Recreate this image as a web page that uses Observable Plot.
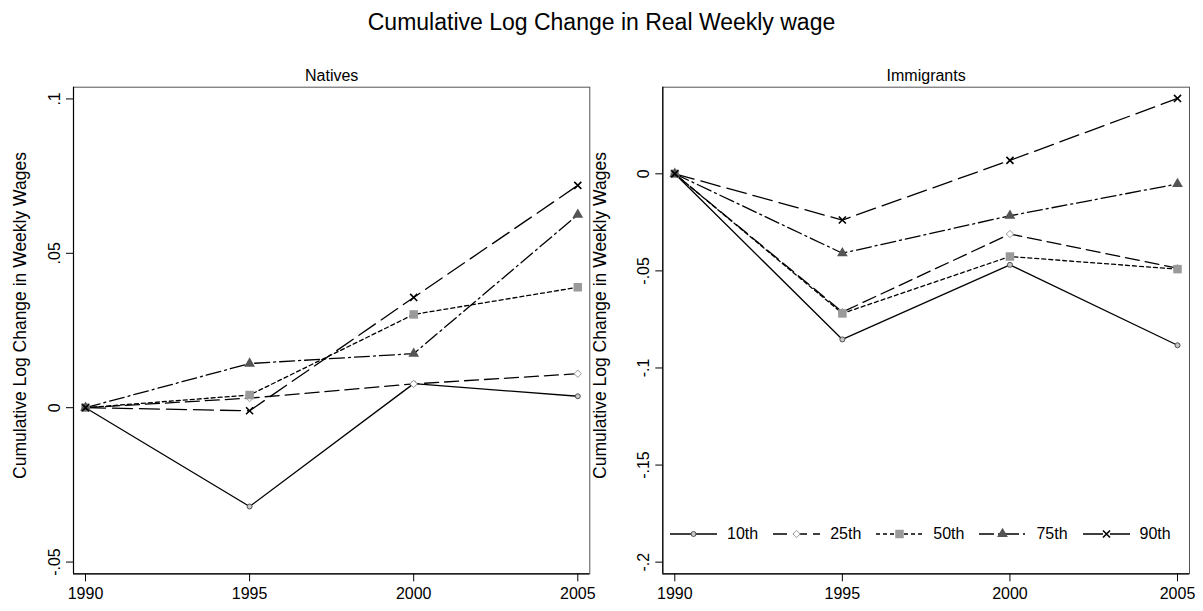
<!DOCTYPE html>
<html><head><meta charset="utf-8">
<script src="https://cdn.jsdelivr.net/npm/d3@7"></script>
<script src="https://cdn.jsdelivr.net/npm/@observablehq/plot@0.6"></script>
<style>
body{margin:0;background:#fff;font-family:"Liberation Sans",Arial,sans-serif;color:#000;}
#chart{position:relative;width:1203px;height:611px;overflow:hidden;}
#title{position:absolute;left:0;top:11px;width:1203px;text-align:center;font-size:23px;line-height:23px;}
.panel{position:absolute;top:0;}
#legend{position:absolute;left:670px;top:526px;display:flex;align-items:center;font-size:16px;line-height:16px;}
#legend .item{display:flex;align-items:center;margin-right:15px;}
#legend .item span{margin-left:10px;}
</style></head><body>
<div id="chart"><div id="title">Cumulative Log Change in Real Weekly wage</div>
<div id="left" class="panel" style="left:0px"></div>
<div id="right" class="panel" style="left:600px"></div>
<div id="legend"></div>
</div>
<script>
// ---- data ----
const years = [1990, 1995, 2000, 2005];
const series = ["10th", "25th", "50th", "75th", "90th"];
// Natives
const nat10 = [0, -0.032, 0.0078, 0.0037];
const nat25 = [0, 0.0031, 0.0077, 0.0110];
const nat50 = [0, 0.0041, 0.0302, 0.0390];
const nat75 = [0, 0.0143, 0.0175, 0.0625];
const nat90 = [0, -0.0010, 0.0357, 0.0720];
// Immigrants
const imm10 = [0, -0.0853, -0.0469, -0.0883];
const imm25 = [0, -0.0712, -0.0310, -0.0486];
const imm50 = [0, -0.0719, -0.0426, -0.0491];
const imm75 = [0, -0.0409, -0.0216, -0.0052];
const imm90 = [0, -0.0238, 0.0069, 0.0388];
// tick labels
const xTicks = [1990, 1995, 2000, 2005];
const natYTicks = [-0.05, 0, 0.05, 0.1];
const immYTicks = [-0.2, -0.15, -0.1, -0.05, 0];
const yTitle = "Cumulative Log Change in Weekly Wages";

// ---- styles ----
const styles = {
  "10th": {dash: null, symbol: "circle", r: 2.5, fill: "#c8c8c8", stroke: "#505050", sw: 1},
  "25th": {dash: "14,6", symbol: "diamond2", r: 3.3, fill: "#fff", stroke: "#9a9a9a", sw: 1},
  "50th": {dash: "4,3", symbol: "square", r: 4.8, fill: "#9a9a9a", stroke: "none", sw: 0},
  "75th": {dash: "15,4,2,4", symbol: "triangle", r: 4.0, fill: "#555", stroke: "none", sw: 0},
  "90th": {dash: "20,7", symbol: "times", r: 3.3, fill: "none", stroke: "#000", sw: 1.6}
};
const fmt = d => d === 0 ? "0" : String(d).replace("0.", ".");

function rows(vals) {
  return series.flatMap((s, i) => years.map((yr, j) => ({year: yr, value: vals[i][j], series: s})));
}

function panel({data, title, width, mLeft, mRight, xDomain, yDomain, yTicks, labelDx}) {
  const marks = [
    Plot.frame({stroke: "#555", strokeWidth: 1}),
    Plot.ruleX([xDomain[0]], {stroke: "#000", strokeWidth: 1.2}),
    Plot.ruleY([yDomain[0]], {stroke: "#000", strokeWidth: 1.2}),
    Plot.axisX(xTicks, {tickSize: 8, tickPadding: 6, tickFormat: d => String(d), label: null, fontSize: 16}),
    Plot.axisY(yTicks, {tickSize: 7, tickPadding: 7, tickRotate: -90, tickFormat: fmt, fontSize: 16, label: null}),
    Plot.text([yTitle], {frameAnchor: "left", rotate: -90, dx: labelDx, dy: -15, fontSize: 17.5,
      textAnchor: "middle", lineAnchor: "middle"}),
    Plot.text([title], {frameAnchor: "top", dy: -6, lineAnchor: "bottom", fontSize: 16})
  ];
  for (const s of series) {
    const st = styles[s];
    const d = data.filter(r => r.series === s);
    marks.push(Plot.line(d, {x: "year", y: "value", stroke: "#000", strokeWidth: 1.3,
      strokeDasharray: st.dash || undefined}));
  }
  for (const s of series) {
    const st = styles[s];
    const d = data.filter(r => r.series === s);
    marks.push(Plot.dot(d, {x: "year", y: "value", symbol: st.symbol, r: st.r, fill: st.fill,
      stroke: st.stroke, strokeWidth: st.sw}));
  }
  return Plot.plot({
    width, height: 611,
    marginLeft: mLeft, marginRight: mRight, marginTop: 86.7, marginBottom: 37.7,
    x: {domain: xDomain, axis: null},
    y: {domain: yDomain, axis: null},
    style: {fontFamily: '"Liberation Sans", Arial, sans-serif', fontSize: "16px", color: "#000",
      background: "transparent", overflow: "visible"},
    marks
  });
}

document.getElementById("left").append(panel({
  data: rows([nat10, nat25, nat50, nat75, nat90]), title: "Natives",
  width: 600, mLeft: 73, mRight: 10.7,
  xDomain: [1989.634, 2005.366], yDomain: [-0.0538, 0.1038], yTicks: natYTicks, labelDx: -53
}));
document.getElementById("right").append(panel({
  data: rows([imm10, imm25, imm50, imm75, imm90]), title: "Immigrants",
  width: 603, mLeft: 62.3, mRight: 14,
  xDomain: [1989.642, 2005.358], yDomain: [-0.206, 0.0446], yTicks: immYTicks, labelDx: -62.3
}));

// ---- legend ----
const leg = d3.select("#legend");
const symMap = {circle: d3.symbolCircle, diamond2: d3.symbolDiamond2, square: d3.symbolSquare,
  triangle: d3.symbolTriangle, times: d3.symbolTimes};
for (const s of series) {
  const st = styles[s];
  const item = leg.append("div").attr("class", "item");
  const svg = item.append("svg").attr("width", 47).attr("height", 16);
  svg.append("line").attr("x1", 0).attr("x2", 47).attr("y1", 8).attr("y2", 8)
    .attr("stroke", "#000").attr("stroke-width", 1.3)
    .attr("stroke-dasharray", st.dash || null);
  svg.append("path").attr("transform", "translate(23.5,8)")
    .attr("d", d3.symbol(symMap[st.symbol], Math.PI * st.r * st.r)())
    .attr("fill", st.fill).attr("stroke", st.stroke).attr("stroke-width", st.sw);
  item.append("span").text(s);
}
</script>
</body></html>
